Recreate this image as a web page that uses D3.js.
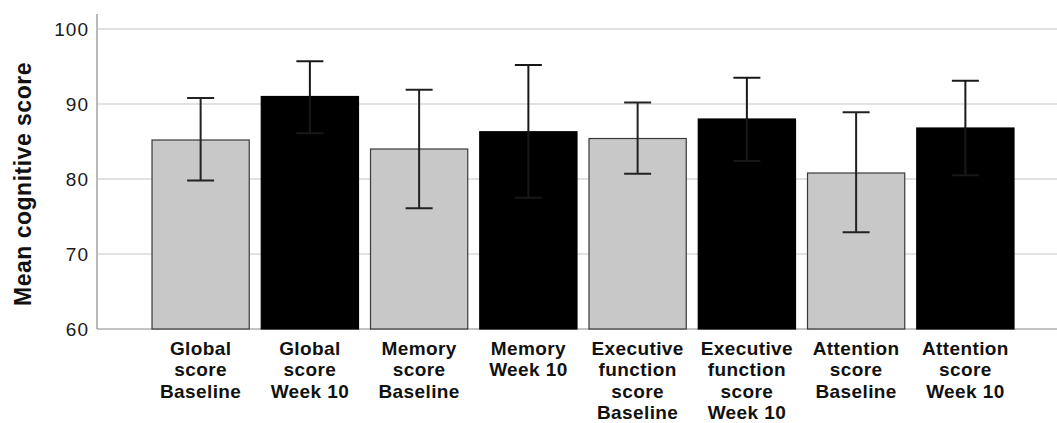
<!DOCTYPE html>
<html>
<head>
<meta charset="utf-8">
<script src="https://cdn.jsdelivr.net/npm/d3@7"></script>
<style>
  html, body { margin: 0; padding: 0; background: #fff; }
  svg { display: block; }
  text { font-family: "Liberation Sans", Arial, sans-serif; }
</style>
</head>
<body>
<svg id="chart" width="1057" height="423"></svg>
<script>
// ---- data ----
const categories = [
  "Global score Baseline",
  "Global score Week 10",
  "Memory score Baseline",
  "Memory Week 10",
  "Executive function score Baseline",
  "Executive function score Week 10",
  "Attention score Baseline",
  "Attention score Week 10"
];
const categoryLines = [
  ["Global", "score", "Baseline"],
  ["Global", "score", "Week 10"],
  ["Memory", "score", "Baseline"],
  ["Memory", "Week 10"],
  ["Executive", "function", "score", "Baseline"],
  ["Executive", "function", "score", "Week 10"],
  ["Attention", "score", "Baseline"],
  ["Attention", "score", "Week 10"]
];
const timepoints = ["Baseline", "Week 10", "Baseline", "Week 10", "Baseline", "Week 10", "Baseline", "Week 10"];
const means = [85.2, 91.0, 84.0, 86.3, 85.4, 88.0, 80.8, 86.8];
const errLower = [79.8, 86.1, 76.1, 77.5, 80.7, 82.4, 72.9, 80.5];
const errUpper = [90.8, 95.7, 91.9, 95.2, 90.2, 93.5, 88.9, 93.1];
const yTicks = [60, 70, 80, 90, 100];
const yLabel = "Mean cognitive score";

// ---- layout ----
const svg = d3.select("#chart");
const plotLeft = 97, plotRight = 1057, plotTop = 14, plotBottom = 329;

const x = d3.scaleBand()
  .domain(categories)
  .range([146, 1020])
  .paddingInner(0.11)
  .paddingOuter(0.055);

const y = d3.scaleLinear().domain([60, 100]).range([329, 29]);

const color = d3.scaleOrdinal().domain(["Baseline", "Week 10"]).range(["#c8c8c8", "#000000"]);

// gridlines
svg.append("g")
  .selectAll("line")
  .data(yTicks.filter(d => d !== 60))
  .join("line")
  .attr("x1", plotLeft + 1).attr("x2", plotRight)
  .attr("y1", d => y(d)).attr("y2", d => y(d))
  .attr("stroke", "#e2e2e2").attr("stroke-width", 2);

// y axis
const yAxis = d3.axisLeft(y).tickValues(yTicks).tickSize(0).tickPadding(8);
const gy = svg.append("g").attr("transform", `translate(${plotLeft},0)`).call(yAxis);
gy.attr("font-family", null).attr("font-size", null);
gy.select(".domain").remove();
gy.selectAll("text")
  .attr("font-size", 19)
  .attr("letter-spacing", "1px")
  .attr("fill", "#1a1a1a")
  .attr("dy", "0.36em");

// axis lines
svg.append("line")
  .attr("x1", plotLeft).attr("x2", plotLeft)
  .attr("y1", plotTop).attr("y2", plotBottom)
  .attr("stroke", "#8a8a8a").attr("stroke-width", 1.2);
svg.append("line")
  .attr("x1", plotLeft).attr("x2", plotRight)
  .attr("y1", plotBottom).attr("y2", plotBottom)
  .attr("stroke", "#8a8a8a").attr("stroke-width", 1.2);

// bars
svg.append("g")
  .selectAll("rect")
  .data(categories)
  .join("rect")
  .attr("x", d => x(d))
  .attr("width", x.bandwidth())
  .attr("y", (d, i) => y(means[i]))
  .attr("height", (d, i) => y(60) - y(means[i]))
  .attr("fill", (d, i) => color(timepoints[i]))
  .attr("stroke", (d, i) => timepoints[i] === "Baseline" ? "#3a3a3a" : "#000")
  .attr("stroke-width", 1.2);

// error bars
const eb = svg.append("g").selectAll("g").data(categories).join("g")
  .attr("stroke", (d, i) => timepoints[i] === "Baseline" ? "#222" : "#181818")
  .attr("stroke-width", 2);
const cap = 13.5;
eb.append("line")
  .attr("x1", d => x(d) + x.bandwidth() / 2).attr("x2", d => x(d) + x.bandwidth() / 2)
  .attr("y1", (d, i) => y(errUpper[i])).attr("y2", (d, i) => y(errLower[i]));
eb.append("line")
  .attr("x1", d => x(d) + x.bandwidth() / 2 - cap).attr("x2", d => x(d) + x.bandwidth() / 2 + cap)
  .attr("y1", (d, i) => y(errUpper[i])).attr("y2", (d, i) => y(errUpper[i]));
eb.append("line")
  .attr("x1", d => x(d) + x.bandwidth() / 2 - cap).attr("x2", d => x(d) + x.bandwidth() / 2 + cap)
  .attr("y1", (d, i) => y(errLower[i])).attr("y2", (d, i) => y(errLower[i]));

// category labels
const lab = svg.append("g").selectAll("text").data(categories).join("text")
  .attr("text-anchor", "middle")
  .attr("font-size", 19)
  .attr("font-weight", "bold")
  .attr("letter-spacing", "0.4px")
  .attr("fill", "#111")
  .attr("transform", d => `translate(${x(d) + x.bandwidth() / 2},355)`);
lab.selectAll("tspan")
  .data((d, i) => categoryLines[i])
  .join("tspan")
  .attr("x", 0)
  .attr("y", (d, j) => j * 21.3)
  .text(d => d);

// y axis title
svg.append("text")
  .attr("transform", "translate(31,184) rotate(-90)")
  .attr("text-anchor", "middle")
  .attr("font-size", 23)
  .attr("font-weight", "bold")
  .attr("letter-spacing", "0.5px")
  .attr("fill", "#111")
  .text(yLabel);
</script>
</body>
</html>
